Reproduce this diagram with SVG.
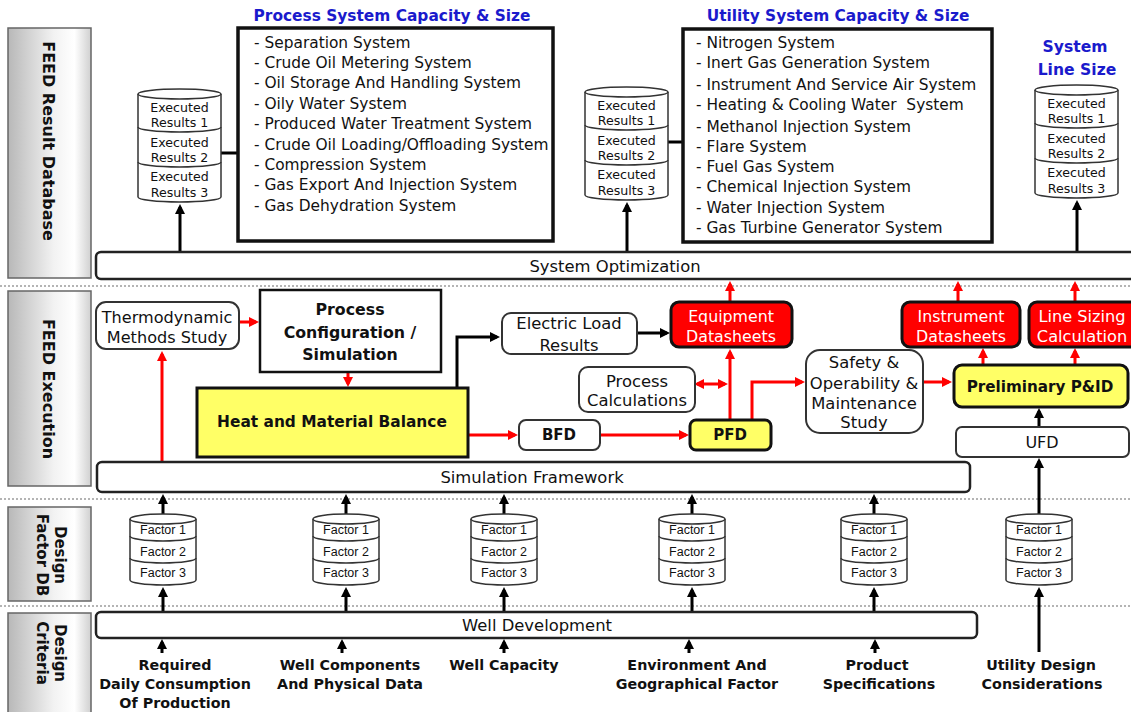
<svg xmlns="http://www.w3.org/2000/svg" width="1131" height="712" viewBox="0 0 1131 712">
<defs>
<linearGradient id="pg" x1="0" y1="0" x2="1" y2="0">
<stop offset="0" stop-color="#b8b8b8"/>
<stop offset="0.55" stop-color="#f2f2f2"/>
<stop offset="0.8" stop-color="#ffffff"/>
<stop offset="1" stop-color="#d0d0d0"/>
</linearGradient>
<marker id="ab" viewBox="0 0 10 10" markerWidth="10" markerHeight="10" markerUnits="userSpaceOnUse" refX="7" refY="5" orient="auto-start-reverse"><path d="M0,0L10,5L0,10z" fill="#000"/></marker>
<marker id="ar" viewBox="0 0 10 10" markerWidth="10" markerHeight="10" markerUnits="userSpaceOnUse" refX="7" refY="5" orient="auto-start-reverse"><path d="M0,0L10,5L0,10z" fill="#f00"/></marker>
</defs>
<style>
text { font-family: "DejaVu Sans", "Liberation Sans", sans-serif; dominant-baseline: central; fill: #111; }
.sep { stroke: #b4b4b4; stroke-width: 2; stroke-dasharray: 2 2; fill: none; }
.panel { fill: url(#pg); stroke: #666; stroke-width: 1.5; }
.ptext { font-weight: bold; font-size: 16px; text-anchor: middle; }
.big { fill: #fff; stroke: #111; stroke-width: 3.5; }
.bar { fill: #fff; stroke: #222; stroke-width: 2.5; }
.rbox { fill: #fff; stroke: #333; stroke-width: 2; }
.red { fill: #f00; stroke: #111; stroke-width: 3; }
.yel { fill: #ffff66; stroke: #111; stroke-width: 3; }
.cyl { fill: #fff; stroke: #333; stroke-width: 1.5; }
.cyd { fill: none; stroke: #333; stroke-width: 1.5; }
.lb { stroke: #000; stroke-width: 3; fill: none; }
.lr { stroke: #f00; stroke-width: 3; fill: none; }
.title { fill: #1a1acc; font-weight: bold; font-size: 15.4px; text-anchor: middle; }
.list { font-size: 15.4px; }
.c { text-anchor: middle; }
.t16 { font-size: 16.4px; }
.b { font-weight: bold; }
.sm { font-size: 12.6px; text-anchor: middle; }
.fac { font-family: "Liberation Sans", sans-serif; font-size: 12.5px; text-anchor: middle; }
.wt { fill: #fff; }
.crit { font-weight: bold; font-size: 14.3px; text-anchor: middle; }
</style>

<g id="separators">
<line class="sep" x1="0" y1="286" x2="1131" y2="286"/>
<line class="sep" x1="0" y1="499" x2="1131" y2="499"/>
<line class="sep" x1="0" y1="606" x2="1131" y2="606"/>
</g>

<g id="panel-result-db">
<rect class="panel" x="8" y="28" width="83" height="250"/>
<text class="ptext" transform="translate(48,141) rotate(90)">FEED Result Database</text>
</g>
<g id="panel-execution">
<rect class="panel" x="8" y="291" width="83" height="195"/>
<text class="ptext" transform="translate(48,389) rotate(90)">FEED Execution</text>
</g>
<g id="panel-factor-db">
<rect class="panel" x="8" y="507" width="83" height="94"/>
<text class="ptext" style="font-size:15px" transform="translate(60,555) rotate(90)">Design</text>
<text class="ptext" style="font-size:15px" transform="translate(42,555) rotate(90)">Factor DB</text>
</g>
<g id="panel-criteria">
<rect class="panel" x="8" y="613" width="83" height="110"/>
<text class="ptext" style="font-size:15px" transform="translate(60,653) rotate(90)">Design</text>
<text class="ptext" style="font-size:15px" transform="translate(42,653) rotate(90)">Criteria</text>
</g>

<g id="connectors">
<path class="lb" d="M221,153H238"/>
<path class="lb" d="M667,142H683"/>
<path class="lb" d="M180,251V207" marker-end="url(#ab)"/>
<path class="lb" d="M627,251V205" marker-end="url(#ab)"/>
<path class="lb" d="M1077,251V203" marker-end="url(#ab)"/>
<path class="lb" d="M457,388V337H497" marker-end="url(#ab)"/>
<path class="lb" d="M637,333H667" marker-end="url(#ab)"/>
<path class="lb" d="M1039,427V411" marker-end="url(#ab)"/>
<path class="lb" d="M1039,514V461" marker-end="url(#ab)"/>
<path class="lb" d="M1039,652V590" marker-end="url(#ab)"/>
<path class="lb" d="M163,514V497" marker-end="url(#ab)"/>
<path class="lb" d="M346,514V497" marker-end="url(#ab)"/>
<path class="lb" d="M504,514V497" marker-end="url(#ab)"/>
<path class="lb" d="M692,514V497" marker-end="url(#ab)"/>
<path class="lb" d="M874,514V497" marker-end="url(#ab)"/>
<path class="lb" d="M163,611V590" marker-end="url(#ab)"/>
<path class="lb" d="M346,611V590" marker-end="url(#ab)"/>
<path class="lb" d="M504,611V590" marker-end="url(#ab)"/>
<path class="lb" d="M692,611V590" marker-end="url(#ab)"/>
<path class="lb" d="M874,611V590" marker-end="url(#ab)"/>
<path class="lb" d="M162,653V642" marker-end="url(#ab)"/>
<path class="lb" d="M342,653V642" marker-end="url(#ab)"/>
<path class="lb" d="M504,653V642" marker-end="url(#ab)"/>
<path class="lb" d="M689,653V642" marker-end="url(#ab)"/>
<path class="lb" d="M875,653V642" marker-end="url(#ab)"/>
<path class="lr" d="M162,463V354" marker-end="url(#ar)"/>
<path class="lr" d="M239,322H256" marker-end="url(#ar)"/>
<path class="lr" d="M348,372V384" marker-end="url(#ar)"/>
<path class="lr" d="M469,435H515" marker-end="url(#ar)"/>
<path class="lr" d="M600,435H686" marker-end="url(#ar)"/>
<path class="lr" d="M730,420V352" marker-end="url(#ar)"/>
<path class="lr" d="M730,302V284" marker-end="url(#ar)"/>
<path class="lr" d="M697,384H725" marker-start="url(#ar)" marker-end="url(#ar)"/>
<path class="lr" d="M752,420V382H802" marker-end="url(#ar)"/>
<path class="lr" d="M923,382H949" marker-end="url(#ar)"/>
<path class="lr" d="M983,365V351" marker-end="url(#ar)"/>
<path class="lr" d="M958,302V284" marker-end="url(#ar)"/>
<path class="lr" d="M1075,365V351" marker-end="url(#ar)"/>
<path class="lr" d="M1075,302V284" marker-end="url(#ar)"/>
</g>

<g id="process-title"><text class="title" x="392" y="16">Process System Capacity &amp; Size</text></g>
<g id="process-systems">
<rect class="big" x="238" y="28" width="315" height="213"/>
<text class="list" x="254" y="43">- Separation System</text>
<text class="list" x="254" y="63">- Crude Oil Metering System</text>
<text class="list" x="254" y="83">- Oil Storage And Handling System</text>
<text class="list" x="254" y="104">- Oily Water System</text>
<text class="list" x="254" y="124">- Produced Water Treatment System</text>
<text class="list" x="254" y="145">- Crude Oil Loading/Offloading System</text>
<text class="list" x="254" y="165">- Compression System</text>
<text class="list" x="254" y="185">- Gas Export And Injection System</text>
<text class="list" x="254" y="206">- Gas Dehydration System</text>
</g>

<g id="utility-title"><text class="title" x="838" y="16">Utility System Capacity &amp; Size</text></g>
<g id="utility-systems">
<rect class="big" x="683" y="29" width="309" height="213"/>
<text class="list" x="696" y="43">- Nitrogen System</text>
<text class="list" x="696" y="63">- Inert Gas Generation System</text>
<text class="list" x="696" y="85">- Instrument And Service Air System</text>
<text class="list" x="696" y="105" xml:space="preserve">- Heating &amp; Cooling Water  System</text>
<text class="list" x="696" y="127">- Methanol Injection System</text>
<text class="list" x="696" y="147">- Flare System</text>
<text class="list" x="696" y="167">- Fuel Gas System</text>
<text class="list" x="696" y="187">- Chemical Injection System</text>
<text class="list" x="696" y="208">- Water Injection System</text>
<text class="list" x="696" y="228">- Gas Turbine Generator System</text>
</g>

<g id="line-size-title">
<text class="title" style="font-size:15.6px" x="1075" y="47">System</text>
<text class="title" style="font-size:15.6px" x="1077" y="70">Line Size</text>
</g>

<g id="db-process" transform="translate(138,89)">
<path class="cyl" d="M0,5V108A41.5,5 0 0 0 83,108V5"/>
<ellipse class="cyl" cx="41.5" cy="5" rx="41.5" ry="5"/>
<path class="cyd" d="M0,38A41.5,5 0 0 0 83,38M0,73A41.5,5 0 0 0 83,73"/>
<text class="sm" x="41.5" y="18">Executed</text><text class="sm" x="41.5" y="33">Results 1</text>
<text class="sm" x="41.5" y="53">Executed</text><text class="sm" x="41.5" y="68">Results 2</text>
<text class="sm" x="41.5" y="87">Executed</text><text class="sm" x="41.5" y="103">Results 3</text>
</g>
<g id="db-utility" transform="translate(585,87)">
<path class="cyl" d="M0,5V108A41.5,5 0 0 0 83,108V5"/>
<ellipse class="cyl" cx="41.5" cy="5" rx="41.5" ry="5"/>
<path class="cyd" d="M0,38A41.5,5 0 0 0 83,38M0,73A41.5,5 0 0 0 83,73"/>
<text class="sm" x="41.5" y="18">Executed</text><text class="sm" x="41.5" y="33">Results 1</text>
<text class="sm" x="41.5" y="53">Executed</text><text class="sm" x="41.5" y="68">Results 2</text>
<text class="sm" x="41.5" y="87">Executed</text><text class="sm" x="41.5" y="103">Results 3</text>
</g>
<g id="db-line" transform="translate(1035,85)">
<path class="cyl" d="M0,5V108A41.5,5 0 0 0 83,108V5"/>
<ellipse class="cyl" cx="41.5" cy="5" rx="41.5" ry="5"/>
<path class="cyd" d="M0,38A41.5,5 0 0 0 83,38M0,73A41.5,5 0 0 0 83,73"/>
<text class="sm" x="41.5" y="18">Executed</text><text class="sm" x="41.5" y="33">Results 1</text>
<text class="sm" x="41.5" y="53">Executed</text><text class="sm" x="41.5" y="68">Results 2</text>
<text class="sm" x="41.5" y="87">Executed</text><text class="sm" x="41.5" y="103">Results 3</text>
</g>

<g id="system-optimization">
<rect class="bar" x="96" y="252" width="1060" height="27" rx="5"/>
<text class="c t16" x="615" y="266">System Optimization</text>
</g>

<g id="thermo">
<rect class="rbox" x="96" y="302" width="143" height="47" rx="10"/>
<text class="c" style="font-size:16.1px" x="167" y="317">Thermodynamic</text>
<text class="c" style="font-size:16.1px" x="167" y="337">Methods Study</text>
</g>
<g id="process-config">
<rect class="rbox" style="stroke:#111;stroke-width:2.5" x="260" y="290" width="181" height="82"/>
<text class="c b" style="font-size:15.8px" x="350" y="309">Process</text>
<text class="c b" style="font-size:15.8px" x="350" y="332">Configuration /</text>
<text class="c b" style="font-size:15.8px" x="350" y="354">Simulation</text>
</g>
<g id="hmb">
<rect class="yel" x="197" y="388" width="271" height="69"/>
<text class="c b" style="font-size:15.4px" x="332" y="422">Heat and Material Balance</text>
</g>
<g id="electric-load">
<rect class="rbox" x="502" y="313" width="135" height="41" rx="9"/>
<text class="c t16" x="569" y="323">Electric Load</text>
<text class="c t16" x="569" y="345">Results</text>
</g>
<g id="equipment-datasheets">
<rect class="red" x="671" y="302" width="121" height="45" rx="8"/>
<text class="c wt" style="font-size:15.8px" x="731" y="316">Equipment</text>
<text class="c wt" style="font-size:15.8px" x="731" y="336">Datasheets</text>
</g>
<g id="process-calculations">
<rect class="rbox" x="579" y="367" width="116" height="45" rx="9"/>
<text class="c t16" x="637" y="381">Process</text>
<text class="c t16" x="637" y="400">Calculations</text>
</g>
<g id="bfd">
<rect class="rbox" x="519" y="420" width="81" height="30" rx="7"/>
<text class="c b" style="font-size:15px" x="559" y="435">BFD</text>
</g>
<g id="pfd">
<rect class="yel" x="690" y="420" width="81" height="30" rx="6"/>
<text class="c b" style="font-size:15px" x="730" y="435">PFD</text>
</g>
<g id="safety">
<rect class="rbox" x="806" y="350" width="117" height="83" rx="14"/>
<text class="c t16" x="864" y="362">Safety &amp;</text>
<text class="c t16" x="864" y="383">Operability &amp;</text>
<text class="c t16" x="864" y="403">Maintenance</text>
<text class="c t16" x="864" y="422">Study</text>
</g>
<g id="instrument-datasheets">
<rect class="red" x="902" y="302" width="118" height="45" rx="8"/>
<text class="c wt" style="font-size:15.8px" x="961" y="316">Instrument</text>
<text class="c wt" style="font-size:15.8px" x="961" y="336">Datasheets</text>
</g>
<g id="line-sizing">
<rect class="red" x="1029" y="302" width="110" height="45" rx="8"/>
<text class="c wt" x="1082" y="316" style="font-size:16.2px">Line Sizing</text>
<text class="c wt" x="1082" y="336" style="font-size:16.2px">Calculation</text>
</g>
<g id="preliminary-pid">
<rect class="yel" x="954" y="365" width="174" height="42" rx="8"/>
<text class="c b" style="font-size:15.2px" x="1040" y="387">Preliminary P&amp;ID</text>
</g>
<g id="ufd">
<rect class="rbox" x="956" y="427" width="173" height="30" rx="6"/>
<text class="c" style="font-size:16px" x="1042" y="442">UFD</text>
</g>
<g id="simulation-framework">
<rect class="bar" x="97" y="462" width="873" height="30" rx="5"/>
<text class="c t16" x="532" y="477">Simulation Framework</text>
</g>

<g id="factor-db-1" transform="translate(130,514)">
<path class="cyl" d="M0,5V66A33,5 0 0 0 66,66V5"/>
<ellipse class="cyl" cx="33" cy="5" rx="33" ry="5"/>
<path class="cyd" d="M0,22A33,5 0 0 0 66,22M0,44A33,5 0 0 0 66,44"/>
<text class="fac" x="33" y="16">Factor 1</text><text class="fac" x="33" y="38">Factor 2</text><text class="fac" x="33" y="59">Factor 3</text>
</g>
<g id="factor-db-2" transform="translate(313,514)">
<path class="cyl" d="M0,5V66A33,5 0 0 0 66,66V5"/>
<ellipse class="cyl" cx="33" cy="5" rx="33" ry="5"/>
<path class="cyd" d="M0,22A33,5 0 0 0 66,22M0,44A33,5 0 0 0 66,44"/>
<text class="fac" x="33" y="16">Factor 1</text><text class="fac" x="33" y="38">Factor 2</text><text class="fac" x="33" y="59">Factor 3</text>
</g>
<g id="factor-db-3" transform="translate(471,514)">
<path class="cyl" d="M0,5V66A33,5 0 0 0 66,66V5"/>
<ellipse class="cyl" cx="33" cy="5" rx="33" ry="5"/>
<path class="cyd" d="M0,22A33,5 0 0 0 66,22M0,44A33,5 0 0 0 66,44"/>
<text class="fac" x="33" y="16">Factor 1</text><text class="fac" x="33" y="38">Factor 2</text><text class="fac" x="33" y="59">Factor 3</text>
</g>
<g id="factor-db-4" transform="translate(659,514)">
<path class="cyl" d="M0,5V66A33,5 0 0 0 66,66V5"/>
<ellipse class="cyl" cx="33" cy="5" rx="33" ry="5"/>
<path class="cyd" d="M0,22A33,5 0 0 0 66,22M0,44A33,5 0 0 0 66,44"/>
<text class="fac" x="33" y="16">Factor 1</text><text class="fac" x="33" y="38">Factor 2</text><text class="fac" x="33" y="59">Factor 3</text>
</g>
<g id="factor-db-5" transform="translate(841,514)">
<path class="cyl" d="M0,5V66A33,5 0 0 0 66,66V5"/>
<ellipse class="cyl" cx="33" cy="5" rx="33" ry="5"/>
<path class="cyd" d="M0,22A33,5 0 0 0 66,22M0,44A33,5 0 0 0 66,44"/>
<text class="fac" x="33" y="16">Factor 1</text><text class="fac" x="33" y="38">Factor 2</text><text class="fac" x="33" y="59">Factor 3</text>
</g>
<g id="factor-db-6" transform="translate(1006,514)">
<path class="cyl" d="M0,5V66A33,5 0 0 0 66,66V5"/>
<ellipse class="cyl" cx="33" cy="5" rx="33" ry="5"/>
<path class="cyd" d="M0,22A33,5 0 0 0 66,22M0,44A33,5 0 0 0 66,44"/>
<text class="fac" x="33" y="16">Factor 1</text><text class="fac" x="33" y="38">Factor 2</text><text class="fac" x="33" y="59">Factor 3</text>
</g>

<g id="well-development">
<rect class="bar" x="96" y="612" width="881" height="26" rx="5"/>
<text class="c t16" x="537" y="625">Well Development</text>
</g>

<g id="crit-consumption">
<text class="crit" x="175" y="665">Required</text>
<text class="crit" x="175" y="684">Daily Consumption</text>
<text class="crit" x="175" y="703">Of Production</text>
</g>
<g id="crit-well-components">
<text class="crit" x="350" y="665">Well Components</text>
<text class="crit" x="350" y="684">And Physical Data</text>
</g>
<g id="crit-well-capacity"><text class="crit" x="504" y="665">Well Capacity</text></g>
<g id="crit-environment">
<text class="crit" x="697" y="665">Environment And</text>
<text class="crit" x="697" y="684">Geographical Factor</text>
</g>
<g id="crit-product">
<text class="crit" x="877" y="665">Product</text>
<text class="crit" x="879" y="684">Specifications</text>
</g>
<g id="crit-utility">
<text class="crit" x="1041" y="665">Utility Design</text>
<text class="crit" x="1042" y="684">Considerations</text>
</g>
</svg>
